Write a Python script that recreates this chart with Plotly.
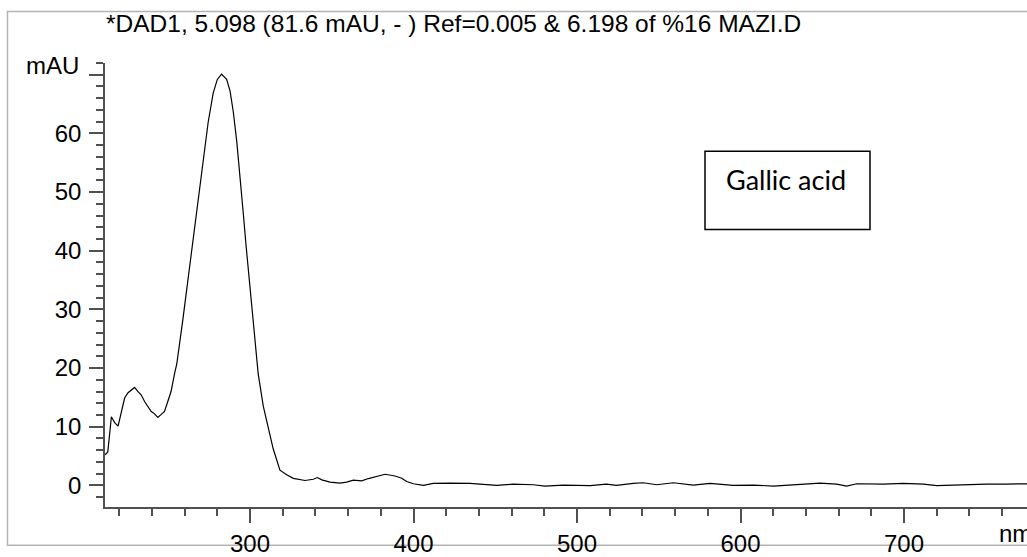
import plotly.graph_objects as go

# ---- data (wavelength in nm, absorbance in mAU) ----
wavelength_nm = [
    211.3, 213.0, 215.2, 217.2, 219.3, 221.3, 223.3, 225.4, 229.4, 231.5,
    233.5, 235.5, 239.6, 241.6, 243.6, 245.7, 247.7, 249.7, 251.7, 253.8,
    255.2, 258.8, 264.8, 268.3, 271.4, 274.4, 277.5, 280.0, 282.6, 285.7,
    287.8, 289.8, 291.9, 293.9, 295.9, 297.6, 301.2, 305.0, 308.1, 311.2,
    314.2, 318.3, 322.4, 326.5, 330.6, 333.6, 338.7, 341.2, 343.9, 348.9,
    355.0, 359.1, 363.2, 368.3, 372.4, 377.5, 382.6, 388.7, 392.8, 395.8,
    399.9, 406.0, 412.1, 422.3, 434.6, 450.9, 461.0, 473.3, 480.4, 491.6,
    508.0, 518.0, 524.2, 534.4, 540.5, 548.7, 558.9, 571.1, 581.3, 595.6,
    608.0, 620.0, 634.4, 648.6, 658.8, 664.9, 671.1, 687.3, 699.6, 711.8,
    720.0, 736.3, 750.4, 762.6, 775.5,
]
absorbance_mAU = [
    5.2, 5.7, 11.7, 10.7, 10.1, 12.4, 14.9, 15.8, 16.7, 16.0,
    15.4, 14.3, 12.6, 12.2, 11.6, 12.1, 12.6, 14.3, 16.0, 19.0,
    20.7, 28.0, 40.8, 49.1, 55.8, 61.9, 66.9, 69.2, 70.1, 69.2,
    67.2, 63.6, 58.6, 53.0, 46.3, 40.8, 30.0, 19.0, 13.5, 9.6,
    6.2, 2.6, 1.8, 1.2, 0.95, 0.84, 1.05, 1.34, 0.95, 0.56,
    0.39, 0.56, 0.89, 0.78, 1.17, 1.5, 1.9, 1.6, 1.22, 0.67,
    0.28, 0.0, 0.33, 0.39, 0.33, 0.0, 0.22, 0.11, -0.11, 0.05,
    -0.05, 0.22, 0.0, 0.33, 0.45, 0.11, 0.45, 0.05, 0.33, 0.0,
    0.05, -0.11, 0.17, 0.39, 0.22, -0.11, 0.28, 0.22, 0.33, 0.22,
    -0.05, 0.11, 0.22, 0.22, 0.28,
]

y_tick_values = [0, 10, 20, 30, 40, 50, 60, 70]
y_tick_labels = ["0", "10", "20", "30", "40", "50", "60", ""]
x_tick_values = [300, 400, 500, 600, 700]
x_tick_labels = ["300", "400", "500", "600", "700"]

title_text = "*DAD1, 5.098 (81.6 mAU, - ) Ref=0.005 & 6.198 of %16 MAZI.D"
y_unit = "mAU"
x_unit = "nm"
box_label = "Gallic acid"

W, H = 1027, 557
L, R, T, B = 105, 0, 63, 41
pw, ph = W - L - R, H - T - B


def px_x(p):
    return (p - L) / pw


def px_y(p):
    return (H - B - p) / ph


AX = "#505050"
FONT = "Liberation Sans, Arial, sans-serif"

fig = go.Figure()
fig.add_trace(go.Scatter(
    x=wavelength_nm, y=absorbance_mAU, mode="lines",
    line=dict(color="black", width=1.2), hoverinfo="skip", showlegend=False,
))

fig.update_layout(
    width=W, height=H,
    margin=dict(l=L, r=R, t=T, b=B, pad=0),
    paper_bgcolor="white", plot_bgcolor="white",
    showlegend=False,
    font=dict(family=FONT, size=24, color="black"),
    xaxis=dict(
        range=[211.3, 775.2], showgrid=False, zeroline=False,
        showline=True, linecolor=AX, linewidth=1.5,
        ticks="outside", ticklen=14, tickwidth=1.5, tickcolor=AX,
        tickmode="array", tickvals=x_tick_values, ticktext=x_tick_labels,
        tickfont=dict(family=FONT, size=24, color="black"),
        minor=dict(ticks="outside", ticklen=7, tickwidth=1.5, tickcolor=AX,
                   tick0=200, dtick=20, showgrid=False),
        fixedrange=True,
    ),
    yaxis=dict(
        range=[-3.68, 72.0], showgrid=False, zeroline=False,
        showline=True, linecolor=AX, linewidth=1.5,
        ticks="outside", ticklen=14, tickwidth=1.5, tickcolor=AX,
        tickmode="array", tickvals=y_tick_values, ticktext=y_tick_labels,
        tickfont=dict(family=FONT, size=24, color="black"),
        ticklabelstandoff=3,
        minor=dict(ticks="outside", ticklen=7, tickwidth=1.5, tickcolor=AX,
                   tick0=0, dtick=2, showgrid=False),
        fixedrange=True,
    ),
)

# outer grey frame
fig.add_shape(type="rect", xref="paper", yref="paper",
              x0=px_x(7.5), x1=px_x(1040), y0=px_y(555), y1=px_y(10.5),
              line=dict(color="#b4b4b4", width=1.5), fillcolor="rgba(0,0,0,0)",
              layer="below")

# label box
fig.add_shape(type="rect", xref="paper", yref="paper",
              x0=px_x(705), x1=px_x(870), y0=px_y(233), y1=px_y(153),
              line=dict(color="black", width=1.5), fillcolor="white")

fig.add_annotation(text=box_label, xref="paper", yref="paper",
                   x=px_x(786), y=px_y(182), xanchor="center", yanchor="middle",
                   showarrow=False,
                   font=dict(family="Lato, Carlito, sans-serif", size=27, color="black"))

fig.add_annotation(text=title_text, xref="paper", yref="paper",
                   x=px_x(104), y=px_y(23), xanchor="left", yanchor="middle",
                   showarrow=False, font=dict(family=FONT, size=24.5, color="black"))

fig.add_annotation(text=y_unit, xref="paper", yref="paper",
                   x=px_x(81), y=px_y(66), xanchor="right", yanchor="middle",
                   showarrow=False, font=dict(family=FONT, size=24, color="black"))

fig.add_annotation(text=x_unit, xref="paper", yref="paper",
                   x=px_x(997), y=px_y(543), xanchor="left", yanchor="middle",
                   showarrow=False, font=dict(family=FONT, size=24, color="black"))

fig.write_html("out.html")
